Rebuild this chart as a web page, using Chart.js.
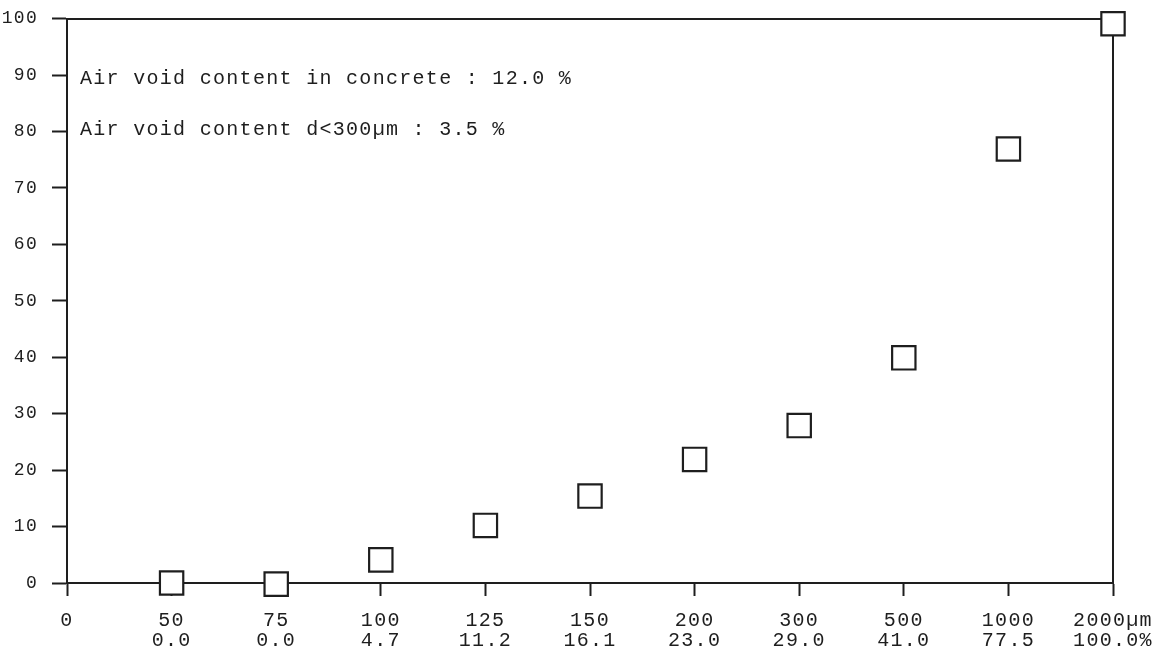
<!DOCTYPE html>
<html>
<head>
<meta charset="utf-8">
<script src="https://cdn.jsdelivr.net/npm/chart.js@4"></script>
<style>
  html, body { margin: 0; padding: 0; background: #fff; }
  #wrap { width: 1173px; height: 661px; }
</style>
</head>
<body>
<div id="wrap"><canvas id="chart"></canvas></div>
<script>
// pore diameter classes (µm) and cumulative share (%) printed under each class
const sizeLabels = ['0', '50', '75', '100', '125', '150', '200', '300', '500', '1000', '2000µm'];
const shareLabels = ['', '0.0', '0.0', '4.7', '11.2', '16.1', '23.0', '29.0', '41.0', '77.5', '100.0%'];
// plotted values (one per class, starting at 50)
const plotValues = [0, -0.2, 4.1, 10.2, 15.4, 21.9, 27.9, 39.9, 76.9, 99.1];
const yTicks = [0, 10, 20, 30, 40, 50, 60, 70, 80, 90, 100];
const notes = [
    'Air void content in concrete : 12.0 %',
    'Air void content d<300µm : 3.5 %'
];

const INK = '#1e1e1e';
const FONT = "'Liberation Mono', 'DejaVu Sans Mono', monospace";
const SPACING = '1.3px';

const points = plotValues.map((v, i) => ({ x: i + 1, y: v }));

// the scanned original uses a wide typewriter face
const spacingPlugin = {
    id: 'spacing',
    beforeUpdate(chart) { chart.ctx.letterSpacing = SPACING; },
    beforeDraw(chart) { chart.ctx.letterSpacing = SPACING; }
};

const notesPlugin = {
    id: 'notes',
    afterDatasetsDraw(chart) {
        const ctx = chart.ctx;
        const y = chart.scales.y;
        ctx.save();
        ctx.font = '20px ' + FONT;
        ctx.fillStyle = INK;
        ctx.textBaseline = 'middle';
        ctx.fillText(notes[0], chart.chartArea.left + 13, y.getPixelForValue(89.3));
        ctx.fillText(notes[1], chart.chartArea.left + 13, y.getPixelForValue(80.4));
        ctx.restore();
    }
};

new Chart(document.getElementById('chart'), {
    type: 'scatter',
    data: {
        datasets: [{
            data: points,
            pointStyle: 'rect',
            pointRadius: 16.5,
            pointHoverRadius: 16.5,
            pointBorderWidth: 2.2,
            pointBackgroundColor: '#fff',
            pointBorderColor: INK,
            showLine: false,
            clip: false
        }]
    },
    options: {
        responsive: true,
        maintainAspectRatio: false,
        animation: false,
        layout: { padding: { left: 2, right: 60, top: 17, bottom: 0 } },
        plugins: {
            legend: { display: false },
            tooltip: { enabled: false }
        },
        scales: {
            x: {
                type: 'linear',
                min: 0,
                max: sizeLabels.length - 1,
                afterBuildTicks(axis) {
                    axis.ticks = sizeLabels.map((_, i) => ({ value: i }));
                },
                afterFit(axis) { axis.height = 78; },
                ticks: {
                    autoSkip: false,
                    maxRotation: 0,
                    color: INK,
                    font: { family: FONT, size: 20, lineHeight: 1.0 },
                    padding: 15,
                    callback(value) {
                        const s = shareLabels[value];
                        return s ? [sizeLabels[value], s] : sizeLabels[value];
                    }
                },
                grid: {
                    z: -1,
                    drawOnChartArea: false,
                    drawTicks: true,
                    tickLength: 13,
                    tickWidth: 2,
                    color: INK
                },
                border: { display: true, color: INK, width: 2 }
            },
            y: {
                min: 0,
                max: 100,
                afterBuildTicks(axis) {
                    axis.ticks = yTicks.map(v => ({ value: v }));
                },
                afterFit(axis) {
                    axis.width = 65;
                    axis.paddingTop = 0;
                    axis.paddingBottom = 0;
                },
                ticks: {
                    color: INK,
                    font: { family: FONT, size: 18 },
                    padding: 14
                },
                grid: {
                    z: -1,
                    drawOnChartArea: false,
                    drawTicks: true,
                    tickLength: 15,
                    tickWidth: 2,
                    color: INK
                },
                border: { display: true, color: INK, width: 2 }
            },
            xTop: {
                type: 'linear',
                position: 'top',
                min: 0,
                max: 10,
                afterFit(axis) { axis.height = 0; },
                ticks: { display: false },
                grid: { display: false, z: -1 },
                border: { display: true, color: INK, width: 2 }
            },
            yRight: {
                type: 'linear',
                position: 'right',
                min: 0,
                max: 100,
                afterFit(axis) { axis.width = 0; },
                ticks: { display: false },
                grid: { display: false, z: -1 },
                border: { display: true, color: INK, width: 2 }
            }
        }
    },
    plugins: [spacingPlugin, notesPlugin]
});
</script>
</body>
</html>
